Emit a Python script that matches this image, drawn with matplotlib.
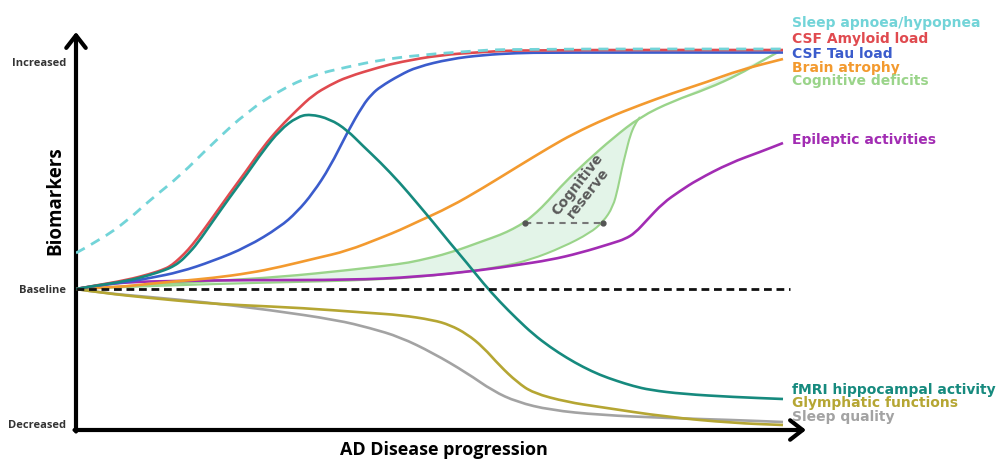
import matplotlib
matplotlib.use("Agg")
import matplotlib.pyplot as plt
from matplotlib.path import Path
from matplotlib.patches import PathPatch

# ---- data (x: disease progression, arbitrary units; y: biomarker level, 0 = baseline) ----
apnoea_x = [0, 24, 51, 74, 104, 137, 171, 204, 237, 271, 304, 344, 397, 431, 707]
apnoea_y = [36, 49, 68, 89, 113, 146, 177, 199, 214, 222, 229, 234, 238, 240, 240]

amyloid_x = [0, 17, 51, 74, 89, 96, 104, 112, 121, 137, 154, 171, 187, 204, 221, 237, 254, 271, 304, 324, 364, 407, 444, 707]
amyloid_y = [0, 3, 9, 15, 20, 24, 31, 39, 50, 72, 96, 119, 142, 162, 179, 194, 204, 212, 222, 227, 234, 237, 239, 239]

fmri_x = [0, 17, 51, 74, 89, 96, 104, 112, 121, 137, 154, 171, 187, 204, 221, 234, 254, 271, 287, 304, 324, 341, 357, 374,
          391, 407, 424, 441, 457, 474, 491, 507, 524, 541, 557, 574, 607, 657, 707]
fmri_y = [0, 3, 8, 14, 19, 22, 27, 35, 45, 68, 92, 115, 138, 159, 172, 175, 170, 159, 143, 127, 106, 86, 67, 46,
          26, 6, -13, -30, -45, -58, -69, -78, -86, -92, -97, -101, -105, -108, -110]

tau_x = [0, 24, 51, 74, 104, 137, 171, 204, 221, 237, 254, 271, 287, 296, 304, 324, 341, 374, 407, 441, 474, 707]
tau_y = [0, 4, 7, 11, 17, 28, 42, 62, 77, 96, 122, 156, 184, 195, 202, 214, 222, 230, 234, 236, 236.5, 236.5]

atrophy_x = [0, 44, 71, 104, 137, 174, 204, 241, 271, 307, 324, 341, 374, 407, 441, 474, 497, 531, 564, 597, 631, 664, 707]
atrophy_y = [0, 2, 5, 8, 11, 16, 22, 31, 38, 52, 59, 67, 82, 101, 122, 142, 155, 171, 184, 196, 207, 219, 230]

epileptic_x = [0, 24, 54, 94, 174, 274, 341, 407, 441, 474, 504, 537, 549, 559, 571, 587, 604, 621, 654, 684, 707]
epileptic_y = [0, 4, 7, 8, 9, 9, 12, 19, 24, 29, 36, 46, 50, 56, 69, 86, 98, 109, 126, 137, 146]

cognitive_x = [0, 74, 137, 204, 274, 324, 341, 374, 407, 424, 437, 449, 461, 471, 489, 511, 537, 564, 597, 631, 664, 684, 704]
cognitive_y = [0, 4, 8, 12, 19, 25, 28, 36, 48, 54, 60, 67, 77, 87, 107, 128, 151, 172, 188, 200, 215, 227, 238]

reserve_x = [0, 74, 174, 307, 374, 424, 454, 487, 514, 527, 537, 542, 546, 550, 554, 559, 564]
reserve_y = [0, 3, 6, 9, 15, 22, 29, 42, 56, 67, 82, 101, 121, 137, 153, 165, 172]

glymph_x = [0, 27, 74, 127, 161, 227, 294, 324, 357, 374, 391, 407, 424, 441, 457, 491, 524, 591, 657, 707]
glymph_y = [0, -4, -9, -14, -16, -19, -24, -26, -31, -36, -45, -58, -77, -93, -104, -113, -118, -128, -134, -136]

sleepq_x = [0, 27, 74, 127, 194, 261, 294, 324, 357, 391, 417, 441, 474, 524, 591, 657, 707]
sleepq_y = [0, -4, -8, -13, -21, -31, -39, -48, -64, -84, -102, -113, -121, -126, -129, -131, -133]

reserve_gap_x = [449, 527]
reserve_gap_y = [66.5, 66.5]

level_ticks = [227, 0, -135]
level_labels = ["Increased", "Baseline", "Decreased"]

series_labels = ["Sleep apnoea/hypopnea", "CSF Amyloid load", "CSF Tau load", "Brain atrophy",
                 "Cognitive deficits", "Epileptic activities", "fMRI hippocampal activity",
                 "Glymphatic functions", "Sleep quality"]
label_y = [266, 250, 235, 221, 208, 149, -101, -114, -128]

# ---- styling ----
C_CYAN = "#72d4d8"
C_RED = "#e04a4f"
C_BLUE = "#3b5ccc"
C_TEAL = "#168a7e"
C_ORANGE = "#f39a2f"
C_GREEN = "#9ad48a"
C_FILL = "#e3f4e8"
C_PURPLE = "#a22cb3"
C_OLIVE = "#b5a633"
C_GRAY = "#a3a3a3"
label_colors = [C_CYAN, C_RED, C_BLUE, C_ORANGE, C_GREEN, C_PURPLE, C_TEAL, C_OLIVE, C_GRAY]


def smooth_verts(xs, ys):
    """Quadratic-Bezier rendering of a polyline (points used as control points)."""
    pts = list(zip(xs, ys))
    verts = [pts[0]]
    codes = [Path.MOVETO]
    for i in range(1, len(pts) - 1):
        mid = ((pts[i][0] + pts[i + 1][0]) / 2, (pts[i][1] + pts[i + 1][1]) / 2)
        verts += [pts[i], mid]
        codes += [Path.CURVE3, Path.CURVE3]
    verts.append(pts[-1])
    codes.append(Path.LINETO)
    return verts, codes


def curve(ax, xs, ys, **kw):
    verts, codes = smooth_verts(xs, ys)
    patch = PathPatch(Path(verts, codes), fill=False, capstyle="butt", joinstyle="round", **kw)
    ax.add_patch(patch)
    return patch


W, H = 1005, 459
fig = plt.figure(figsize=(W / 100, H / 100), dpi=100)
ax = fig.add_axes([76 / W, (H - 430) / H, 730 / W, 395 / H])
ax.set_xlim(0, 730)
ax.set_ylim(-141, 254)
for s in ax.spines.values():
    s.set_visible(False)
ax.set_xticks([])
ax.set_yticks(level_ticks)
ax.set_yticklabels(level_labels, fontfamily="Open Sans", fontweight="bold", fontsize=8, color="#333333")
ax.tick_params(axis="y", length=0, pad=7)

lw = 1.9
# cognitive reserve band
uv, uc = smooth_verts(cognitive_x, cognitive_y)
lv, lc = smooth_verts(reserve_x[::-1], reserve_y[::-1])
lc = [Path.LINETO] + lc[1:]
band = PathPatch(Path(uv + lv + [uv[0]], uc + lc + [Path.CLOSEPOLY]), facecolor=C_FILL, lw=0, zorder=1)
ax.add_patch(band)

curve(ax, reserve_x, reserve_y, edgecolor=C_GREEN, lw=1.5, zorder=2)
curve(ax, cognitive_x, cognitive_y, edgecolor=C_GREEN, lw=1.7, zorder=2)
curve(ax, epileptic_x, epileptic_y, edgecolor=C_PURPLE, lw=lw, zorder=3)
curve(ax, atrophy_x, atrophy_y, edgecolor=C_ORANGE, lw=lw, zorder=3)
curve(ax, tau_x, tau_y, edgecolor=C_BLUE, lw=lw, zorder=3)
curve(ax, amyloid_x, amyloid_y, edgecolor=C_RED, lw=lw, zorder=4)
curve(ax, fmri_x, fmri_y, edgecolor=C_TEAL, lw=lw, zorder=5)
curve(ax, apnoea_x, apnoea_y, edgecolor=C_CYAN, lw=2.0, linestyle=(0, (3.6, 2.6)), zorder=6)
curve(ax, sleepq_x, sleepq_y, edgecolor=C_GRAY, lw=lw, zorder=3)
curve(ax, glymph_x, glymph_y, edgecolor=C_OLIVE, lw=lw, zorder=4)

# baseline
ax.plot([0, 714], [0, 0], color="#111111", lw=2.0, ls=(0, (2.8, 1.7)), zorder=7)

# cognitive reserve marker
ax.plot(reserve_gap_x, reserve_gap_y, color="#777777", lw=1.5, ls=(0, (3, 2.5)), zorder=6)
ax.plot(reserve_gap_x, reserve_gap_y, ls="none", marker="o", ms=3.5, color="#555555", zorder=7)
ax.text(507, 100, "Cognitive\nreserve", rotation=52, ha="center", va="center", fontsize=10,
        fontweight="bold", color="#5a5a5a", linespacing=1.0, rotation_mode="anchor", zorder=8)

# axes arrows
arrow_kw = dict(arrowstyle="->,head_length=0.45,head_width=0.35", lw=3.0, color="black",
                shrinkA=0, shrinkB=0, mutation_scale=20)
ax.annotate("", xy=(0, 257), xytext=(0, -142.5), arrowprops=arrow_kw, annotation_clip=False)
ax.annotate("", xy=(730, -141), xytext=(-1.5, -141), arrowprops=arrow_kw, annotation_clip=False)

# right-hand labels
for txt, yy, col in zip(series_labels, label_y, label_colors):
    ax.text(716, yy, txt, color=col, fontsize=10, fontweight="bold", ha="left", va="center",
            family="DejaVu Sans")

# axis titles
ax.text(-21, 88, "Biomarkers", rotation=90, ha="center", va="center", fontsize=13.5,
        fontweight="bold", family="Open Sans", color="black")
ax.text(368, -161, "AD Disease progression", ha="center", va="center", fontsize=13,
        fontweight="bold", family="Open Sans", color="black")

fig.savefig("out.png", dpi=100)
